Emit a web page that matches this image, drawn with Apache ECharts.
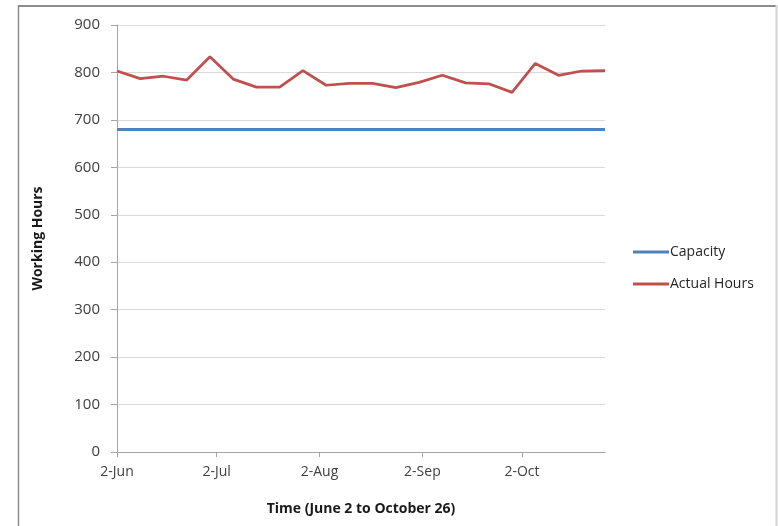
<!DOCTYPE html>
<html>
<head>
<meta charset="utf-8">
<script src="https://cdn.jsdelivr.net/npm/echarts@6/dist/echarts.min.js"></script>
<style>
  html, body { margin: 0; padding: 0; background: #fff; }
  #chart { width: 778px; height: 526px; }
</style>
</head>
<body>
<div id="chart"></div>
<script>
// Weekly observations, June 2 to late October
const weekDates = [
  '2008-06-02', '2008-06-09', '2008-06-16', '2008-06-23', '2008-06-30',
  '2008-07-07', '2008-07-14', '2008-07-21', '2008-07-28',
  '2008-08-04', '2008-08-11', '2008-08-18', '2008-08-25',
  '2008-09-01', '2008-09-08', '2008-09-15', '2008-09-22', '2008-09-29',
  '2008-10-06', '2008-10-13', '2008-10-20', '2008-10-27'
];
const capacity = [680, 680, 680, 680, 680, 680, 680, 680, 680, 680, 680,
                  680, 680, 680, 680, 680, 680, 680, 680, 680, 680, 680];
const actualHours = [803, 787, 792, 784, 833, 786, 769, 769, 804, 773, 777,
                     777, 768, 779, 794, 778, 776, 758, 819, 794, 803, 804];

// Month ticks on the date axis
const tickDates = ['2008-06-02', '2008-07-02', '2008-08-02', '2008-09-02', '2008-10-02'];
const tickLabels = ['2-Jun', '2-Jul', '2-Aug', '2-Sep', '2-Oct'];

const DAY = 86400000;
const toDay = s => Date.parse(s + 'T00:00:00Z') / DAY;
const origin = toDay(weekDates[0]);
const dayOffset = s => toDay(s) - origin;

const tickOffsets = tickDates.map(dayOffset);
const labelByOffset = {};
tickOffsets.forEach((d, i) => { labelByOffset[d] = tickLabels[i]; });

const pairs = vals => weekDates.map((d, i) => [dayOffset(d), vals[i]]);

const FONT = 'Open Sans';
const chart = echarts.init(document.getElementById('chart'));
chart.setOption({
  animation: false,
  backgroundColor: '#ffffff',
  textStyle: { fontFamily: FONT },
  grid: { left: 117, top: 25, right: 173, bottom: 74, containLabel: false },
  xAxis: {
    type: 'value',
    min: 0,
    max: dayOffset(weekDates[weekDates.length - 1]),
    name: 'Time (June 2 to October 26)',
    nameLocation: 'middle',
    nameGap: 50,
    nameTextStyle: { fontFamily: FONT, fontWeight: 'bold', fontSize: 14, color: '#1a1a1a' },
    axisLine: { lineStyle: { color: '#a6a6a6', width: 1 } },
    axisTick: { show: true, length: 5, customValues: tickOffsets, lineStyle: { color: '#a6a6a6' } },
    axisLabel: {
      customValues: tickOffsets,
      formatter: v => labelByOffset[v] || '',
      fontSize: 14, color: '#404040', margin: 13
    },
    splitLine: { show: false }
  },
  yAxis: {
    type: 'value',
    min: 0,
    max: 900,
    interval: 100,
    name: 'Working Hours',
    nameLocation: 'middle',
    nameGap: 72,
    nameRotate: 90,
    nameTextStyle: { fontFamily: FONT, fontWeight: 'bold', fontSize: 14, color: '#1a1a1a' },
    axisLine: { show: true, lineStyle: { color: '#a6a6a6', width: 1 } },
    axisTick: { show: true, length: 6, inside: false, lineStyle: { color: '#a6a6a6' } },
    axisLabel: { fontSize: 15, color: '#404040', margin: 17 },
    splitLine: { show: true, lineStyle: { color: '#d9d9d9', width: 1 } }
  },
  legend: {
    orient: 'vertical',
    left: 633,
    top: 245,
    padding: 0,
    itemGap: 18,
    itemWidth: 36,
    itemHeight: 3,
    icon: 'rect',
    textStyle: { fontFamily: FONT, fontSize: 14, color: '#262626', padding: [0, 0, 0, -4] },
    data: ['Capacity', 'Actual Hours']
  },
  graphic: [
    { type: 'line', shape: { x1: 18, y1: 6, x2: 777, y2: 6 }, style: { stroke: '#8c8c8c', lineWidth: 2 } },
    { type: 'line', shape: { x1: 18.5, y1: 5, x2: 18.5, y2: 530 }, style: { stroke: '#8c8c8c', lineWidth: 1.5 } },
    { type: 'line', shape: { x1: 776.5, y1: 5, x2: 776.5, y2: 530 }, style: { stroke: '#d4d4d4', lineWidth: 2 } }
  ],
  series: [
    {
      name: 'Capacity',
      type: 'line',
      data: pairs(capacity),
      showSymbol: false,
      symbol: 'none',
      lineStyle: { color: '#4f81bd', width: 3 },
      itemStyle: { color: '#4f81bd' },
      z: 3
    },
    {
      name: 'Actual Hours',
      type: 'line',
      data: pairs(actualHours),
      showSymbol: false,
      symbol: 'none',
      lineStyle: { color: '#c0504d', width: 2.75 },
      itemStyle: { color: '#c0504d' },
      z: 4
    }
  ]
});
</script>
</body>
</html>
